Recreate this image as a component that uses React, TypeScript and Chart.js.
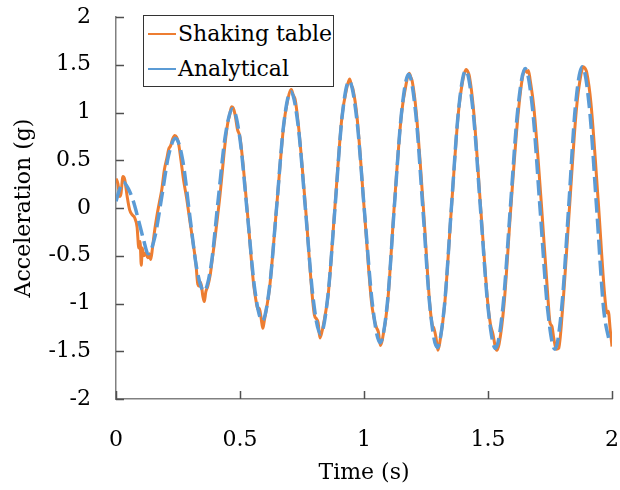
import React, { useEffect, useRef } from "react";
import Chart from "chart.js/auto";

const xTickLabels = ["0", "0.5", "1", "1.5", "2"];
const yTickLabels = ["-2", "-1.5", "-1", "-0.5", "0", "0.5", "1", "1.5", "2"];
const xTickValues = [0, 0.5, 1, 1.5, 2];
const yTickValues = [-2, -1.5, -1, -0.5, 0, 0.5, 1, 1.5, 2];

const seriesNames = ["Shaking table", "Analytical"];

const timeShaking = [
  0, 0.008, 0.015, 0.02, 0.028, 0.035, 0.045, 0.055, 0.065, 0.075, 0.085, 0.092, 0.097, 0.102, 0.106, 0.112, 0.12, 0.128, 0.134, 0.14,
  0.147, 0.155, 0.165, 0.175, 0.185, 0.195, 0.205, 0.213, 0.22, 0.228, 0.237, 0.245, 0.252, 0.262, 0.272, 0.285, 0.297, 0.31, 0.322, 0.33,
  0.336, 0.342, 0.35, 0.356, 0.362, 0.37, 0.38, 0.39, 0.4, 0.41, 0.42, 0.43, 0.44, 0.45, 0.458, 0.466, 0.472, 0.48, 0.49, 0.5,
  0.53, 0.555, 0.565, 0.572, 0.578, 0.585, 0.592, 0.598, 0.605, 0.62, 0.648, 0.676, 0.69, 0.707, 0.715, 0.722, 0.735, 0.765, 0.79, 0.8,
  0.808, 0.815, 0.822, 0.83, 0.84, 0.856, 0.883, 0.911, 0.93, 0.942, 0.95, 0.955, 0.972, 1.002, 1.03, 1.04, 1.05, 1.058, 1.066, 1.074,
  1.095, 1.122, 1.151, 1.17, 1.182, 1.19, 1.195, 1.21, 1.24, 1.265, 1.275, 1.282, 1.29, 1.298, 1.305, 1.325, 1.352, 1.38, 1.4, 1.412,
  1.42, 1.425, 1.442, 1.47, 1.5, 1.51, 1.52, 1.53, 1.535, 1.545, 1.565, 1.592, 1.622, 1.64, 1.65, 1.657, 1.663, 1.67, 1.685, 1.715,
  1.74, 1.75, 1.758, 1.765, 1.775, 1.785, 1.8, 1.828, 1.856, 1.875, 1.885, 1.892, 1.898, 1.915, 1.945, 1.97, 1.98, 1.985, 1.993, 2.0,
];
const accShaking = [
  0.31, 0.25, 0.12, 0.15, 0.33, 0.3, 0.12, -0.02, -0.07, -0.1, -0.2, -0.42, -0.35, -0.6, -0.42, -0.5, -0.47, -0.52, -0.48, -0.54,
  -0.42, -0.25, -0.08, 0.06, 0.2, 0.4, 0.52, 0.62, 0.65, 0.72, 0.76, 0.74, 0.68, 0.5, 0.3, 0.1, -0.12, -0.35, -0.58, -0.8,
  -0.82, -0.78, -0.92, -0.98, -0.88, -0.82, -0.7, -0.5, -0.3, -0.08, 0.15, 0.42, 0.68, 0.88, 0.97, 1.06, 1.05, 0.98, 0.82, 0.74,
  -0.05, -0.8, -0.98, -1.06, -1.05, -1.15, -1.26, -1.18, -1.08, -0.82, 0.02, 0.86, 1.1, 1.24, 1.18, 1.14, 0.88, -0.02, -0.88, -1.12,
  -1.16, -1.2, -1.36, -1.3, -1.17, -0.9, 0.02, 0.95, 1.25, 1.35, 1.28, 1.25, 0.95, -0.05, -0.98, -1.15, -1.25, -1.3, -1.44, -1.38,
  -1.0, 0.02, 0.98, 1.3, 1.41, 1.36, 1.32, 1.02, -0.02, -1.0, -1.22, -1.26, -1.35, -1.49, -1.42, -1.02, -0.02, 0.98, 1.36, 1.45,
  1.42, 1.38, 1.02, 0.02, -1.02, -1.22, -1.32, -1.46, -1.49, -1.42, -1.0, 0.0, 1.0, 1.38, 1.45, 1.42, 1.44, 1.34, 1.05, 0.05,
  -0.88, -1.2, -1.24, -1.36, -1.48, -1.47, -1.08, -0.02, 1.02, 1.4, 1.48, 1.46, 1.42, 1.1, 0.05, -0.9, -1.1, -1.08, -1.28, -1.45,
];

const timeAnalytical = [
  0, 0.015, 0.03, 0.05, 0.07, 0.09, 0.11, 0.13, 0.157, 0.185, 0.212, 0.24, 0.269, 0.297, 0.326, 0.355, 0.384, 0.412, 0.441, 0.47,
  0.5, 0.53, 0.56, 0.59, 0.619, 0.648, 0.676, 0.705, 0.735, 0.765, 0.795, 0.825, 0.854, 0.883, 0.911, 0.94, 0.971, 1.002, 1.034, 1.065,
  1.094, 1.122, 1.151, 1.18, 1.209, 1.238, 1.266, 1.295, 1.324, 1.352, 1.381, 1.41, 1.44, 1.47, 1.5, 1.53, 1.56, 1.59, 1.62, 1.65,
  1.68, 1.71, 1.74, 1.77, 1.797, 1.825, 1.852, 1.88, 1.909, 1.938, 1.966, 1.99,
];
const accAnalytical = [
  0.07, 0.2, 0.27, 0.2, 0.07, -0.12, -0.32, -0.48, -0.3, 0.125, 0.55, 0.73, 0.5, -0.07, -0.64, -0.87, -0.59, 0.085, 0.76, 1.04,
  0.72, -0.07, -0.86, -1.18, -0.83, 0.02, 0.87, 1.22, 0.85, -0.05, -0.95, -1.32, -0.93, 0.0, 0.94, 1.33, 0.93, -0.04, -1.01, -1.41,
  -1.0, 0.0, 0.99, 1.4, 0.98, -0.03, -1.04, -1.46, -1.03, -0.01, 1.02, 1.44, 1.01, -0.02, -1.04, -1.47, -1.04, 0.0, 1.03, 1.46,
  1.03, -0.01, -1.05, -1.48, -1.05, 0.0, 1.05, 1.48, 1.05, 0.0, -1.05, -1.41,
];

const ORANGE = "#ED7D31";
const BLUE = "#5B9BD5";
const FONT = "'DejaVu Serif', serif";

const inwardTicks = {
  id: "inwardTicks",
  afterDatasetsDraw(chart: any) {
    const { ctx, chartArea, scales } = chart;
    ctx.save();
    ctx.strokeStyle = "#505050";
    ctx.lineWidth = 1.5;
    ctx.beginPath();
    yTickValues.forEach((v) => {
      const y = Math.round(scales.y.getPixelForValue(v)) + 0.5;
      ctx.moveTo(chartArea.left, y);
      ctx.lineTo(chartArea.left + 8, y);
    });
    xTickValues.forEach((v) => {
      const x = Math.round(scales.x.getPixelForValue(v)) + 0.5;
      ctx.moveTo(x, chartArea.bottom);
      ctx.lineTo(x, chartArea.bottom - 8);
    });
    ctx.stroke();
    ctx.restore();
  },
};

function ChartView() {
  const ref = useRef<HTMLCanvasElement | null>(null);
  useEffect(() => {
    if (!ref.current) return;
    const chart = new Chart(ref.current, {
      type: "line",
      data: {
        datasets: [
          {
            label: seriesNames[0],
            data: timeShaking.map((t, i) => ({ x: t, y: accShaking[i] })),
            borderColor: ORANGE,
            borderWidth: 3,
            pointRadius: 0,
            cubicInterpolationMode: "monotone",
            order: 2,
          },
          {
            label: seriesNames[1],
            data: timeAnalytical.map((t, i) => ({ x: t, y: accAnalytical[i] })),
            borderColor: BLUE,
            borderWidth: 3.5,
            borderDash: [15, 6],
            pointRadius: 0,
            cubicInterpolationMode: "monotone",
            order: 1,
          },
        ],
      },
      options: {
        animation: false,
        responsive: false,
        devicePixelRatio: 1,
        layout: { padding: { top: 17, right: 8, left: 0, bottom: 0 } },
        plugins: { legend: { display: false }, tooltip: { enabled: false } },
        scales: {
          x: {
            type: "linear",
            min: 0,
            max: 2,
            afterBuildTicks: (scale: any) => {
              scale.ticks = xTickValues.map((v) => ({ value: v }));
            },
            afterFit: (scale: any) => {
              scale.height = 91;
              scale.paddingLeft = 0;
              scale.paddingRight = 0;
            },
            ticks: {
              callback: (_v: any, i: number) => xTickLabels[i],
              font: { family: FONT, size: 22 },
              color: "#000",
              padding: 20,
              maxRotation: 0,
            },
            grid: { display: false },
            border: { display: true, color: "#808080", width: 1.5 },
            title: {
              display: true,
              text: "Time (s)",
              font: { family: FONT, size: 22 },
              color: "#000",
              padding: { top: 0, bottom: 4 },
            },
          },
          y: {
            type: "linear",
            min: -2,
            max: 2,
            afterBuildTicks: (scale: any) => {
              scale.ticks = yTickValues.map((v) => ({ value: v }));
            },
            afterFit: (scale: any) => {
              scale.width = 116;
              scale.paddingTop = 0;
              scale.paddingBottom = 0;
            },
            ticks: {
              callback: (_v: any, i: number) => yTickLabels[i],
              font: { family: FONT, size: 22 },
              color: "#000",
              padding: 17,
            },
            grid: { display: false },
            border: { display: true, color: "#808080", width: 1.5 },
            title: {
              display: true,
              text: "Acceleration (g)",
              font: { family: FONT, size: 22 },
              color: "#000",
              padding: { top: 11, bottom: 0 },
            },
          },
        },
      },
      plugins: [inwardTicks],
    } as any);
    return () => chart.destroy();
  }, []);
  return <canvas ref={ref} width={620} height={490} style={{ display: "block" }} />;
}

function Legend() {
  const row = (color: string, text: string) => (
    <div style={{ display: "flex", alignItems: "center", height: 35 }}>
      <div style={{ width: 28, height: 0, borderTop: `2.5px solid ${color}`, marginLeft: 4, marginRight: 2 }} />
      <span style={{ fontFamily: FONT, fontSize: 22, color: "#000", lineHeight: "26px" }}>{text}</span>
    </div>
  );
  return (
    <div
      style={{
        position: "absolute",
        left: 143,
        top: 15,
        width: 191,
        height: 72,
        boxSizing: "border-box",
        border: "1px solid #333",
        background: "#fff",
        paddingTop: 0,
      }}
    >
      {row(ORANGE, seriesNames[0])}
      {row(BLUE, seriesNames[1])}
    </div>
  );
}

export default function App() {
  return (
    <div style={{ position: "absolute", left: 0, top: 0, width: 620, height: 490, background: "#fff" }}>
      <ChartView />
      <Legend />
    </div>
  );
}
